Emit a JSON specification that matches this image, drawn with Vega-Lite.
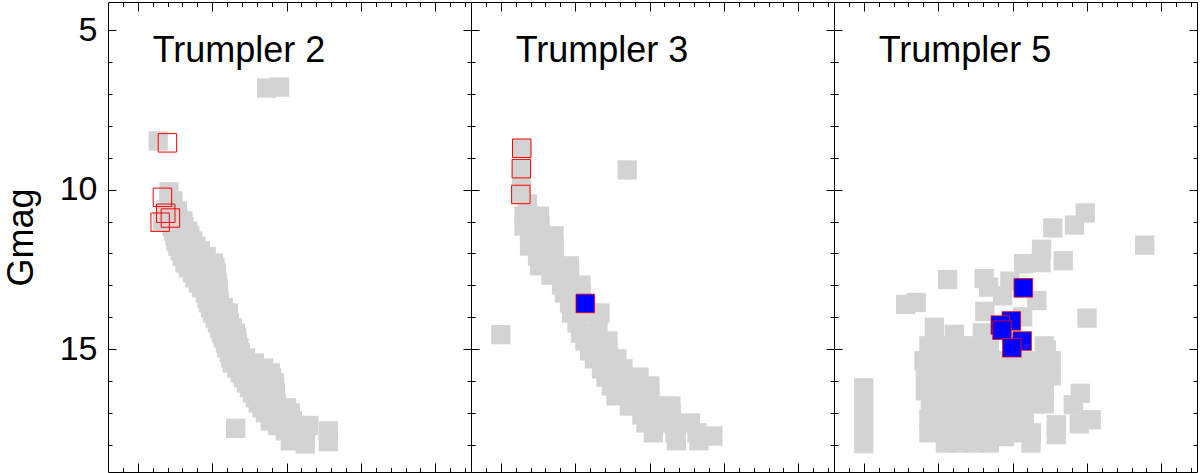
{
"$schema": "https://vega.github.io/schema/vega-lite/v6.json",
"padding": {"left": 2, "top": 1, "right": 0, "bottom": 0},
"spacing": 0,
"bounds": "flush",
"config": {
  "view": {"stroke": "black", "strokeWidth": 1},
  "font": "Liberation Sans",
  "axis": {"domain": false, "grid": false, "tickColor": "black", "tickWidth": 1, "labelColor": "black", "titleColor": "black", "labelFont": "Liberation Sans", "titleFont": "Liberation Sans", "titleFontWeight": "normal"}
},
"datasets": {
"stars": [
{"p":2,"t":"g","c":1.733,"g":6.81},{"p":2,"t":"g","c":1.907,"g":6.78},{"p":2,"t":"g","c":0.275,"g":8.47},
{"p":2,"t":"g","c":0.419,"g":10.07},
{"p":2,"t":"g","c":0.419,"g":10.35},{"p":2,"t":"g","c":0.473,"g":10.35},
{"p":2,"t":"g","c":0.426,"g":10.67},{"p":2,"t":"g","c":0.533,"g":10.67},
{"p":2,"t":"g","c":0.372,"g":10.73},{"p":2,"t":"g","c":0.332,"g":11.01},
{"p":2,"t":"g","c":0.446,"g":10.98},{"p":2,"t":"g","c":0.607,"g":10.98},
{"p":2,"t":"g","c":0.460,"g":11.15},{"p":2,"t":"g","c":0.620,"g":11.15},
{"p":2,"t":"g","c":0.480,"g":11.30},{"p":2,"t":"g","c":0.674,"g":11.30},
{"p":2,"t":"g","c":0.500,"g":11.45},{"p":2,"t":"g","c":0.700,"g":11.45},
{"p":2,"t":"g","c":0.513,"g":11.61},{"p":2,"t":"g","c":0.741,"g":11.61},
{"p":2,"t":"g","c":0.540,"g":11.77},{"p":2,"t":"g","c":0.780,"g":11.77},
{"p":2,"t":"g","c":0.574,"g":11.92},{"p":2,"t":"g","c":0.842,"g":11.92},
{"p":2,"t":"g","c":0.600,"g":12.10},{"p":2,"t":"g","c":0.840,"g":12.10},{"p":2,"t":"g","c":0.920,"g":12.10},
{"p":2,"t":"g","c":0.634,"g":12.30},{"p":2,"t":"g","c":0.829,"g":12.30},{"p":2,"t":"g","c":1.017,"g":12.30},
{"p":2,"t":"g","c":0.680,"g":12.45},{"p":2,"t":"g","c":0.920,"g":12.45},{"p":2,"t":"g","c":1.040,"g":12.45},
{"p":2,"t":"g","c":0.735,"g":12.61},{"p":2,"t":"g","c":1.057,"g":12.61},
{"p":2,"t":"g","c":0.770,"g":12.77},{"p":2,"t":"g","c":1.060,"g":12.77},
{"p":2,"t":"g","c":0.815,"g":12.93},{"p":2,"t":"g","c":1.071,"g":12.93},
{"p":2,"t":"g","c":0.860,"g":13.08},{"p":2,"t":"g","c":1.080,"g":13.08},
{"p":2,"t":"g","c":0.909,"g":13.24},{"p":2,"t":"g","c":1.084,"g":13.24},
{"p":2,"t":"g","c":0.930,"g":13.40},{"p":2,"t":"g","c":1.090,"g":13.40},
{"p":2,"t":"g","c":0.950,"g":13.55},{"p":2,"t":"g","c":1.097,"g":13.55},
{"p":2,"t":"g","c":0.980,"g":13.70},{"p":2,"t":"g","c":1.150,"g":13.70},
{"p":2,"t":"g","c":1.003,"g":13.87},{"p":2,"t":"g","c":1.218,"g":13.87},
{"p":2,"t":"g","c":1.040,"g":14.03},{"p":2,"t":"g","c":1.220,"g":14.03},
{"p":2,"t":"g","c":1.071,"g":14.18},{"p":2,"t":"g","c":1.232,"g":14.18},
{"p":2,"t":"g","c":1.100,"g":14.34},{"p":2,"t":"g","c":1.270,"g":14.34},
{"p":2,"t":"g","c":1.124,"g":14.50},{"p":2,"t":"g","c":1.312,"g":14.50},
{"p":2,"t":"g","c":1.150,"g":14.65},{"p":2,"t":"g","c":1.330,"g":14.65},
{"p":2,"t":"g","c":1.178,"g":14.81},{"p":2,"t":"g","c":1.339,"g":14.81},
{"p":2,"t":"g","c":1.200,"g":14.96},{"p":2,"t":"g","c":1.360,"g":14.96},
{"p":2,"t":"g","c":1.232,"g":15.12},{"p":2,"t":"g","c":1.379,"g":15.12},
{"p":2,"t":"g","c":1.250,"g":15.28},{"p":2,"t":"g","c":1.450,"g":15.28},
{"p":2,"t":"g","c":1.272,"g":15.44},{"p":2,"t":"g","c":1.433,"g":15.44},{"p":2,"t":"g","c":1.568,"g":15.44},
{"p":2,"t":"g","c":1.330,"g":15.60},{"p":2,"t":"g","c":1.500,"g":15.60},{"p":2,"t":"g","c":1.690,"g":15.60},
{"p":2,"t":"g","c":1.379,"g":15.75},{"p":2,"t":"g","c":1.594,"g":15.75},{"p":2,"t":"g","c":1.782,"g":15.75},
{"p":2,"t":"g","c":1.420,"g":15.90},{"p":2,"t":"g","c":1.620,"g":15.90},{"p":2,"t":"g","c":1.800,"g":15.90},
{"p":2,"t":"g","c":1.460,"g":16.06},{"p":2,"t":"g","c":1.675,"g":16.06},{"p":2,"t":"g","c":1.836,"g":16.06},
{"p":2,"t":"g","c":1.500,"g":16.22},{"p":2,"t":"g","c":1.700,"g":16.22},{"p":2,"t":"g","c":1.840,"g":16.22},
{"p":2,"t":"g","c":1.541,"g":16.38},{"p":2,"t":"g","c":1.700,"g":16.38},{"p":2,"t":"g","c":1.850,"g":16.38},
{"p":2,"t":"g","c":1.580,"g":16.53},{"p":2,"t":"g","c":1.850,"g":16.53},
{"p":2,"t":"g","c":1.621,"g":16.69},{"p":2,"t":"g","c":1.760,"g":16.69},{"p":2,"t":"g","c":1.863,"g":16.69},
{"p":2,"t":"g","c":1.670,"g":16.85},{"p":2,"t":"g","c":1.900,"g":16.85},{"p":2,"t":"g","c":2.000,"g":16.85},
{"p":2,"t":"g","c":1.715,"g":17.00},{"p":2,"t":"g","c":1.880,"g":17.00},{"p":2,"t":"g","c":2.050,"g":17.00},
{"p":2,"t":"g","c":1.782,"g":17.26},{"p":2,"t":"g","c":1.930,"g":17.26},{"p":2,"t":"g","c":2.078,"g":17.26},
{"p":2,"t":"g","c":1.880,"g":17.40},{"p":2,"t":"g","c":2.150,"g":17.40},{"p":2,"t":"g","c":2.300,"g":17.40},
{"p":2,"t":"g","c":1.984,"g":17.57},{"p":2,"t":"g","c":2.253,"g":17.63},{"p":2,"t":"g","c":2.561,"g":17.57},
{"p":2,"t":"g","c":2.051,"g":17.88},{"p":2,"t":"g","c":2.253,"g":17.98},{"p":2,"t":"g","c":2.561,"g":17.91},
{"p":2,"t":"g","c":1.316,"g":17.49},
{"p":2,"t":"r","c":0.399,"g":8.53},{"p":2,"t":"r","c":0.332,"g":10.24},{"p":2,"t":"r","c":0.376,"g":10.74},{"p":2,"t":"r","c":0.439,"g":10.89},{"p":2,"t":"r","c":0.301,"g":11.02},

{"p":3,"t":"g","c":0.282,"g":8.70},{"p":3,"t":"g","c":0.277,"g":9.34},{"p":3,"t":"g","c":0.277,"g":9.70},{"p":3,"t":"g","c":0.270,"g":10.15},
{"p":3,"t":"g","c":1.700,"g":9.38},{"p":3,"t":"g","c":0.001,"g":14.55},
{"p":3,"t":"g","c":0.360,"g":10.45},
{"p":3,"t":"g","c":0.313,"g":10.83},{"p":3,"t":"g","c":0.521,"g":10.83},
{"p":3,"t":"g","c":0.313,"g":11.14},{"p":3,"t":"g","c":0.528,"g":11.14},
{"p":3,"t":"g","c":0.387,"g":11.45},{"p":3,"t":"g","c":0.550,"g":11.45},{"p":3,"t":"g","c":0.716,"g":11.45},
{"p":3,"t":"g","c":0.387,"g":11.77},{"p":3,"t":"g","c":0.550,"g":11.77},{"p":3,"t":"g","c":0.716,"g":11.77},
{"p":3,"t":"g","c":0.494,"g":12.08},{"p":3,"t":"g","c":0.716,"g":12.08},
{"p":3,"t":"g","c":0.521,"g":12.39},{"p":3,"t":"g","c":0.729,"g":12.39},{"p":3,"t":"g","c":0.924,"g":12.39},
{"p":3,"t":"g","c":0.676,"g":12.68},{"p":3,"t":"g","c":0.924,"g":12.68},
{"p":3,"t":"g","c":0.817,"g":12.99},{"p":3,"t":"g","c":1.079,"g":12.99},
{"p":3,"t":"g","c":0.857,"g":13.24},{"p":3,"t":"g","c":1.079,"g":13.24},
{"p":3,"t":"g","c":0.924,"g":13.55},{"p":3,"t":"g","c":1.079,"g":13.55},
{"p":3,"t":"g","c":0.951,"g":13.87},{"p":3,"t":"g","c":1.199,"g":13.87},{"p":3,"t":"g","c":1.334,"g":13.87},
{"p":3,"t":"g","c":1.025,"g":14.18},{"p":3,"t":"g","c":1.307,"g":14.18},
{"p":3,"t":"g","c":1.072,"g":14.50},{"p":3,"t":"g","c":1.287,"g":14.50},
{"p":3,"t":"g","c":1.132,"g":14.75},{"p":3,"t":"g","c":1.290,"g":14.75},{"p":3,"t":"g","c":1.441,"g":14.75},
{"p":3,"t":"g","c":1.193,"g":15.06},{"p":3,"t":"g","c":1.441,"g":15.06},
{"p":3,"t":"g","c":1.260,"g":15.31},{"p":3,"t":"g","c":1.410,"g":15.31},{"p":3,"t":"g","c":1.562,"g":15.31},
{"p":3,"t":"g","c":1.354,"g":15.62},{"p":3,"t":"g","c":1.500,"g":15.62},{"p":3,"t":"g","c":1.643,"g":15.62},
{"p":3,"t":"g","c":1.414,"g":15.88},{"p":3,"t":"g","c":1.629,"g":15.88},{"p":3,"t":"g","c":1.858,"g":15.88},
{"p":3,"t":"g","c":1.488,"g":16.16},{"p":3,"t":"g","c":1.737,"g":16.16},{"p":3,"t":"g","c":2.005,"g":16.16},
{"p":3,"t":"g","c":1.549,"g":16.47},{"p":3,"t":"g","c":1.777,"g":16.47},{"p":3,"t":"g","c":2.005,"g":16.47},
{"p":3,"t":"g","c":1.730,"g":16.79},{"p":3,"t":"g","c":1.965,"g":16.79},{"p":3,"t":"g","c":2.200,"g":16.79},{"p":3,"t":"g","c":2.287,"g":16.79},
{"p":3,"t":"g","c":1.898,"g":17.07},{"p":3,"t":"g","c":2.100,"g":17.07},{"p":3,"t":"g","c":2.294,"g":17.07},
{"p":3,"t":"g","c":1.952,"g":17.32},{"p":3,"t":"g","c":2.247,"g":17.32},{"p":3,"t":"g","c":2.549,"g":17.32},
{"p":3,"t":"g","c":2.052,"g":17.63},{"p":3,"t":"g","c":2.341,"g":17.63},{"p":3,"t":"g","c":2.637,"g":17.63},{"p":3,"t":"g","c":2.852,"g":17.73},
{"p":3,"t":"g","c":2.361,"g":17.88},{"p":3,"t":"g","c":2.664,"g":17.88},
{"p":3,"t":"r","c":0.282,"g":8.70},{"p":3,"t":"r","c":0.277,"g":9.34},{"p":3,"t":"r","c":0.270,"g":10.15},
{"p":3,"t":"b","c":1.136,"g":13.57},

{"p":5,"t":"g","c":2.978,"g":10.73},{"p":5,"t":"g","c":2.833,"g":11.11},{"p":5,"t":"g","c":2.541,"g":11.20},{"p":5,"t":"g","c":3.777,"g":11.74},
{"p":5,"t":"g","c":2.390,"g":11.87},{"p":5,"t":"g","c":2.682,"g":12.23},{"p":5,"t":"g","c":2.149,"g":12.32},{"p":5,"t":"g","c":2.383,"g":12.29},
{"p":5,"t":"g","c":1.127,"g":12.82},{"p":5,"t":"g","c":1.619,"g":12.79},{"p":5,"t":"g","c":1.678,"g":13.06},{"p":5,"t":"g","c":1.964,"g":12.87},
{"p":5,"t":"g","c":2.326,"g":13.48},{"p":5,"t":"g","c":1.867,"g":13.33},{"p":5,"t":"g","c":2.145,"g":13.08},
{"p":5,"t":"g","c":0.563,"g":13.60},{"p":5,"t":"g","c":0.705,"g":13.54},{"p":5,"t":"g","c":1.628,"g":13.82},{"p":5,"t":"g","c":2.136,"g":13.99},{"p":5,"t":"g","c":3.001,"g":14.03},
{"p":5,"t":"g","c":0.950,"g":14.32},{"p":5,"t":"g","c":1.218,"g":14.54},{"p":5,"t":"g","c":1.594,"g":14.49},{"p":5,"t":"g","c":2.454,"g":15.03},
{"p":5,"t":"g","c":0.876,"g":14.90},{"p":5,"t":"g","c":1.084,"g":14.90},{"p":5,"t":"g","c":1.285,"g":14.90},{"p":5,"t":"g","c":1.487,"g":14.90},{"p":5,"t":"g","c":1.688,"g":14.90},{"p":5,"t":"g","c":2.427,"g":14.90},
{"p":5,"t":"g","c":0.809,"g":15.37},{"p":5,"t":"g","c":1.017,"g":15.37},{"p":5,"t":"g","c":1.218,"g":15.37},{"p":5,"t":"g","c":1.420,"g":15.37},{"p":5,"t":"g","c":1.621,"g":15.37},{"p":5,"t":"g","c":1.823,"g":15.37},{"p":5,"t":"g","c":2.024,"g":15.37},{"p":5,"t":"g","c":2.226,"g":15.37},{"p":5,"t":"g","c":2.427,"g":15.37},{"p":5,"t":"g","c":2.521,"g":15.37},
{"p":5,"t":"g","c":0.829,"g":15.84},{"p":5,"t":"g","c":1.030,"g":15.84},{"p":5,"t":"g","c":1.232,"g":15.84},{"p":5,"t":"g","c":1.433,"g":15.84},{"p":5,"t":"g","c":1.635,"g":15.84},{"p":5,"t":"g","c":1.836,"g":15.84},{"p":5,"t":"g","c":2.038,"g":15.84},{"p":5,"t":"g","c":2.239,"g":15.84},{"p":5,"t":"g","c":2.441,"g":15.84},{"p":5,"t":"g","c":2.521,"g":15.84},
{"p":5,"t":"g","c":0.829,"g":16.31},{"p":5,"t":"g","c":1.030,"g":16.31},{"p":5,"t":"g","c":1.232,"g":16.31},{"p":5,"t":"g","c":1.433,"g":16.31},{"p":5,"t":"g","c":1.635,"g":16.31},{"p":5,"t":"g","c":1.836,"g":16.31},{"p":5,"t":"g","c":2.038,"g":16.31},{"p":5,"t":"g","c":2.239,"g":16.31},{"p":5,"t":"g","c":2.427,"g":16.31},
{"p":5,"t":"g","c":0.896,"g":16.72},{"p":5,"t":"g","c":1.097,"g":16.72},{"p":5,"t":"g","c":1.299,"g":16.72},{"p":5,"t":"g","c":1.500,"g":16.72},{"p":5,"t":"g","c":1.702,"g":16.72},{"p":5,"t":"g","c":1.903,"g":16.72},{"p":5,"t":"g","c":2.105,"g":16.72},{"p":5,"t":"g","c":2.306,"g":16.72},{"p":5,"t":"g","c":2.427,"g":16.72},
{"p":5,"t":"g","c":0.876,"g":17.19},{"p":5,"t":"g","c":1.071,"g":17.19},{"p":5,"t":"g","c":1.272,"g":17.19},{"p":5,"t":"g","c":1.473,"g":17.19},{"p":5,"t":"g","c":1.675,"g":17.19},{"p":5,"t":"g","c":1.876,"g":17.19},{"p":5,"t":"g","c":2.078,"g":17.19},{"p":5,"t":"g","c":2.159,"g":17.19},
{"p":5,"t":"g","c":0.876,"g":17.63},{"p":5,"t":"g","c":1.084,"g":17.63},{"p":5,"t":"g","c":1.285,"g":17.63},{"p":5,"t":"g","c":1.487,"g":17.63},{"p":5,"t":"g","c":1.688,"g":17.63},{"p":5,"t":"g","c":1.890,"g":17.63},{"p":5,"t":"g","c":2.091,"g":17.63},{"p":5,"t":"g","c":2.253,"g":17.63},
{"p":5,"t":"g","c":1.097,"g":17.95},{"p":5,"t":"g","c":1.285,"g":17.95},{"p":5,"t":"g","c":1.487,"g":17.95},{"p":5,"t":"g","c":1.688,"g":17.95},{"p":5,"t":"g","c":2.249,"g":17.95},{"p":5,"t":"g","c":1.890,"g":17.75},
{"p":5,"t":"g","c":2.911,"g":16.39},{"p":5,"t":"g","c":2.817,"g":16.75},{"p":5,"t":"g","c":2.897,"g":17.35},{"p":5,"t":"g","c":3.058,"g":17.22},{"p":5,"t":"g","c":2.588,"g":17.38},{"p":5,"t":"g","c":2.588,"g":17.69},
{"p":5,"t":"g","c":0.0,"g":16.22},{"p":5,"t":"g","c":0.0,"g":16.79},{"p":5,"t":"g","c":0.0,"g":17.38},{"p":5,"t":"g","c":0.0,"g":17.97},
{"p":5,"t":"b","c":2.145,"g":13.08},{"p":5,"t":"b","c":1.984,"g":14.12},{"p":5,"t":"b","c":1.836,"g":14.25},{"p":5,"t":"b","c":1.859,"g":14.41},{"p":5,"t":"b","c":2.129,"g":14.75},{"p":5,"t":"b","c":1.991,"g":14.96}
]
},
"hconcat": [
{
  "width": 363, "height": 470,
  "data": {"name": "stars"},
  "layer": [
    {"transform": [{"filter": "datum.p === 2 && datum.t === 'g'"}],
     "mark": {"type": "square", "size": 372, "color": "#d3d3d3", "opacity": 1},
     "encoding": {
       "x": {"field": "c", "type": "quantitative", "scale": {"domain": [-0.4, 4.48], "nice": false, "zero": false}, "axis": {"orient": "bottom", "values": [0,1,2,3,4], "tickSize": -9, "labels": false, "title": null}},
       "y": {"field": "g", "type": "quantitative", "scale": {"domain": [4.11, 18.86], "reverse": true, "nice": false, "zero": false}, "axis": {"orient": "left", "values": [5,10,15], "tickSize": -8, "labels": true, "labelFontSize": 34, "labelPadding": 19, "title": "Gmag", "titleFontSize": 36, "titlePadding": 19}}
     }},
    {"transform": [{"filter": "datum.p === 2 && datum.t === 'r'"}],
     "mark": {"type": "point", "shape": "square", "filled": false, "size": 340, "stroke": "#ff0000", "strokeWidth": 1, "opacity": 1},
     "encoding": {
       "x": {"field": "c", "type": "quantitative", "scale": {"domain": [-0.4, 4.48], "nice": false, "zero": false}, "axis": {"orient": "bottom", "values": [-0.2,0.2,0.4,0.6,0.8,1.2,1.4,1.6,1.8,2.2,2.4,2.6,2.8,3.2,3.4,3.6,3.8,4.2,4.4], "tickSize": -4.5, "labels": false, "title": null}},
       "y": {"field": "g", "type": "quantitative", "scale": {"domain": [4.11, 18.86], "reverse": true, "nice": false, "zero": false}, "axis": {"orient": "left", "values": [6,7,8,9,11,12,13,14,16,17,18], "tickSize": -4, "labels": false, "title": null}}
     }},
    {"transform": [{"filter": "datum.p === 2 && datum.t === 'b'"}],
     "mark": {"type": "square", "size": 345, "fill": "#0000ff", "stroke": "#ff0000", "strokeWidth": 0.8, "opacity": 1},
     "encoding": {
       "x": {"field": "c", "type": "quantitative", "scale": {"domain": [-0.4, 4.48], "nice": false, "zero": false}, "axis": {"orient": "top", "values": [0,1,2,3,4], "tickSize": -9, "labels": false, "title": null}},
       "y": {"field": "g", "type": "quantitative", "scale": {"domain": [4.11, 18.86], "reverse": true, "nice": false, "zero": false}, "axis": {"orient": "right", "values": [5,10,15], "tickSize": -8, "labels": false, "title": null}}
     }},
    {"data": {"values": [{"name": "Trumpler 2"}]},
     "mark": {"type": "text", "align": "left", "baseline": "alphabetic", "fontSize": 36, "color": "black", "font": "Liberation Sans"},
     "encoding": {
       "x": {"datum": 0.2, "type": "quantitative", "scale": {"domain": [-0.4, 4.48], "nice": false, "zero": false}, "axis": {"orient": "top", "values": [-0.2,0.2,0.4,0.6,0.8,1.2,1.4,1.6,1.8,2.2,2.4,2.6,2.8,3.2,3.4,3.6,3.8,4.2,4.4], "tickSize": -4.5, "labels": false, "title": null}},
       "y": {"datum": 5.98, "type": "quantitative", "scale": {"domain": [4.11, 18.86], "reverse": true, "nice": false, "zero": false}, "axis": {"orient": "right", "values": [6,7,8,9,11,12,13,14,16,17,18], "tickSize": -4, "labels": false, "title": null}},
       "text": {"field": "name"}
     }}
  ],
  "resolve": {"axis": {"x": "independent", "y": "independent"}}
},
{
  "width": 363, "height": 470,
  "data": {"name": "stars"},
  "layer": [
    {"transform": [{"filter": "datum.p === 3 && datum.t === 'g'"}],
     "mark": {"type": "square", "size": 372, "color": "#d3d3d3", "opacity": 1},
     "encoding": {
       "x": {"field": "c", "type": "quantitative", "scale": {"domain": [-0.4, 4.48], "nice": false, "zero": false}, "axis": {"orient": "bottom", "values": [0,1,2,3,4], "tickSize": -9, "labels": false, "title": null}},
       "y": {"field": "g", "type": "quantitative", "scale": {"domain": [4.11, 18.86], "reverse": true, "nice": false, "zero": false}, "axis": {"orient": "left", "values": [5,10,15], "tickSize": -8, "labels": false, "title": null}}
     }},
    {"transform": [{"filter": "datum.p === 3 && datum.t === 'r'"}],
     "mark": {"type": "point", "shape": "square", "filled": false, "size": 340, "stroke": "#ff0000", "strokeWidth": 1, "opacity": 1},
     "encoding": {
       "x": {"field": "c", "type": "quantitative", "scale": {"domain": [-0.4, 4.48], "nice": false, "zero": false}, "axis": {"orient": "bottom", "values": [-0.2,0.2,0.4,0.6,0.8,1.2,1.4,1.6,1.8,2.2,2.4,2.6,2.8,3.2,3.4,3.6,3.8,4.2,4.4], "tickSize": -4.5, "labels": false, "title": null}},
       "y": {"field": "g", "type": "quantitative", "scale": {"domain": [4.11, 18.86], "reverse": true, "nice": false, "zero": false}, "axis": {"orient": "left", "values": [6,7,8,9,11,12,13,14,16,17,18], "tickSize": -4, "labels": false, "title": null}}
     }},
    {"transform": [{"filter": "datum.p === 3 && datum.t === 'b'"}],
     "mark": {"type": "square", "size": 345, "fill": "#0000ff", "stroke": "#ff0000", "strokeWidth": 0.8, "opacity": 1},
     "encoding": {
       "x": {"field": "c", "type": "quantitative", "scale": {"domain": [-0.4, 4.48], "nice": false, "zero": false}, "axis": {"orient": "top", "values": [0,1,2,3,4], "tickSize": -9, "labels": false, "title": null}},
       "y": {"field": "g", "type": "quantitative", "scale": {"domain": [4.11, 18.86], "reverse": true, "nice": false, "zero": false}, "axis": {"orient": "right", "values": [5,10,15], "tickSize": -8, "labels": false, "title": null}}
     }},
    {"data": {"values": [{"name": "Trumpler 3"}]},
     "mark": {"type": "text", "align": "left", "baseline": "alphabetic", "fontSize": 36, "color": "black", "font": "Liberation Sans"},
     "encoding": {
       "x": {"datum": 0.2, "type": "quantitative", "scale": {"domain": [-0.4, 4.48], "nice": false, "zero": false}, "axis": {"orient": "top", "values": [-0.2,0.2,0.4,0.6,0.8,1.2,1.4,1.6,1.8,2.2,2.4,2.6,2.8,3.2,3.4,3.6,3.8,4.2,4.4], "tickSize": -4.5, "labels": false, "title": null}},
       "y": {"datum": 5.98, "type": "quantitative", "scale": {"domain": [4.11, 18.86], "reverse": true, "nice": false, "zero": false}, "axis": {"orient": "right", "values": [6,7,8,9,11,12,13,14,16,17,18], "tickSize": -4, "labels": false, "title": null}},
       "text": {"field": "name"}
     }}
  ],
  "resolve": {"axis": {"x": "independent", "y": "independent"}}
},
{
  "width": 363, "height": 470,
  "data": {"name": "stars"},
  "layer": [
    {"transform": [{"filter": "datum.p === 5 && datum.t === 'g'"}],
     "mark": {"type": "square", "size": 372, "color": "#d3d3d3", "opacity": 1},
     "encoding": {
       "x": {"field": "c", "type": "quantitative", "scale": {"domain": [-0.4, 4.48], "nice": false, "zero": false}, "axis": {"orient": "bottom", "values": [0,1,2,3,4], "tickSize": -9, "labels": false, "title": null}},
       "y": {"field": "g", "type": "quantitative", "scale": {"domain": [4.11, 18.86], "reverse": true, "nice": false, "zero": false}, "axis": {"orient": "left", "values": [5,10,15], "tickSize": -8, "labels": false, "title": null}}
     }},
    {"transform": [{"filter": "datum.p === 5 && datum.t === 'r'"}],
     "mark": {"type": "point", "shape": "square", "filled": false, "size": 340, "stroke": "#ff0000", "strokeWidth": 1, "opacity": 1},
     "encoding": {
       "x": {"field": "c", "type": "quantitative", "scale": {"domain": [-0.4, 4.48], "nice": false, "zero": false}, "axis": {"orient": "bottom", "values": [-0.2,0.2,0.4,0.6,0.8,1.2,1.4,1.6,1.8,2.2,2.4,2.6,2.8,3.2,3.4,3.6,3.8,4.2,4.4], "tickSize": -4.5, "labels": false, "title": null}},
       "y": {"field": "g", "type": "quantitative", "scale": {"domain": [4.11, 18.86], "reverse": true, "nice": false, "zero": false}, "axis": {"orient": "left", "values": [6,7,8,9,11,12,13,14,16,17,18], "tickSize": -4, "labels": false, "title": null}}
     }},
    {"transform": [{"filter": "datum.p === 5 && datum.t === 'b'"}],
     "mark": {"type": "square", "size": 345, "fill": "#0000ff", "stroke": "#ff0000", "strokeWidth": 0.8, "opacity": 1},
     "encoding": {
       "x": {"field": "c", "type": "quantitative", "scale": {"domain": [-0.4, 4.48], "nice": false, "zero": false}, "axis": {"orient": "top", "values": [0,1,2,3,4], "tickSize": -9, "labels": false, "title": null}},
       "y": {"field": "g", "type": "quantitative", "scale": {"domain": [4.11, 18.86], "reverse": true, "nice": false, "zero": false}, "axis": {"orient": "right", "values": [5,10,15], "tickSize": -8, "labels": false, "title": null}}
     }},
    {"data": {"values": [{"name": "Trumpler 5"}]},
     "mark": {"type": "text", "align": "left", "baseline": "alphabetic", "fontSize": 36, "color": "black", "font": "Liberation Sans"},
     "encoding": {
       "x": {"datum": 0.2, "type": "quantitative", "scale": {"domain": [-0.4, 4.48], "nice": false, "zero": false}, "axis": {"orient": "top", "values": [-0.2,0.2,0.4,0.6,0.8,1.2,1.4,1.6,1.8,2.2,2.4,2.6,2.8,3.2,3.4,3.6,3.8,4.2,4.4], "tickSize": -4.5, "labels": false, "title": null}},
       "y": {"datum": 5.98, "type": "quantitative", "scale": {"domain": [4.11, 18.86], "reverse": true, "nice": false, "zero": false}, "axis": {"orient": "right", "values": [6,7,8,9,11,12,13,14,16,17,18], "tickSize": -4, "labels": false, "title": null}},
       "text": {"field": "name"}
     }}
  ],
  "resolve": {"axis": {"x": "independent", "y": "independent"}}
}
]
}
